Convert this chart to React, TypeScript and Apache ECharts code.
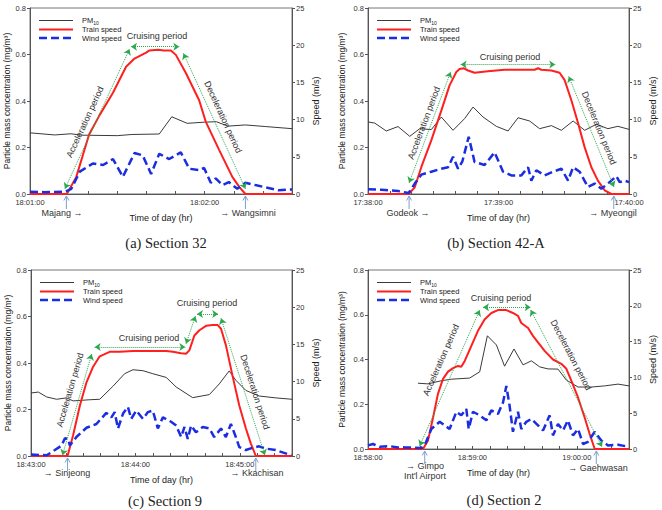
import React, { useEffect, useRef } from 'react';
import * as echarts from 'echarts';

// ---------------- DATA ----------------
// (a) Section 32 — time in seconds after 18:01:00
const aPmT = [0, 8.5, 14, 18, 30, 35, 44.4, 48.7, 54, 60, 64, 68, 74, 81, 90];
const aPmV = [0.263, 0.254, 0.259, 0.253, 0.251, 0.256, 0.258, 0.332, 0.304, 0.309, 0.311, 0.292, 0.297, 0.29, 0.281];
const aTrT = [0, 12.5, 13.1, 15.9, 20.3, 23.9, 28.5, 33, 35.9, 39.9, 41, 44, 46, 48.4, 50.1, 53.5, 58.1, 60.4, 65, 69.5, 72, 74, 90];
const aTrV = [0, 0, 0.3, 2.3, 8.0, 10.6, 13.6, 17.1, 18.2, 19.0, 19.3, 19.4, 19.3, 19.3, 18.7, 16.3, 12.6, 9.7, 5.9, 2.3, 0.9, 0, 0];
const aWiT = [0, 5, 12, 14.2, 17.1, 21.6, 25.1, 28.5, 31.9, 35.9, 38.7, 41.6, 44.4, 47.8, 51.8, 54.7, 58.1, 59.8, 62.1, 63.8, 66.1, 68.3, 71.2, 74, 77.4, 80.9, 85.4, 88.8, 90];
const aWiV = [0.3, 0.25, 0.3, 0.7, 3.0, 4.1, 3.9, 4.7, 2.3, 5.5, 5.2, 2.7, 5.4, 4.7, 5.6, 3.4, 3.2, 3.5, 1.5, 2.1, 1.2, 1.6, 0.7, 1.5, 1.2, 0.9, 0.5, 0.6, 0.6];
const aArrows = [[[12, 0.7], [34.2, 19.5]], [[34.7, 19.8], [51.3, 19.8]], [[52.7, 18.9], [74, 0.7]]];
const aStations = [12.5, 74];

// (b) Section 42-A — seconds after 17:38:00
const bPmT = [0, 3.1, 8.4, 13.8, 19.2, 23.8, 29.1, 33.7, 39.1, 44.4, 48.3, 52.9, 59, 64.4, 69, 74.3, 78.9, 84.3, 88.9, 94.3, 99.6, 105, 110.3, 114.9, 120];
const bPmV = [0.31, 0.305, 0.271, 0.29, 0.248, 0.281, 0.277, 0.331, 0.274, 0.324, 0.374, 0.331, 0.291, 0.271, 0.328, 0.314, 0.281, 0.294, 0.274, 0.314, 0.274, 0.3, 0.281, 0.291, 0.278];
const bTrT = [0, 18.7, 21.5, 24.5, 29.1, 33.7, 37.5, 40.6, 42.1, 44.1, 46, 49, 55.2, 62.8, 69, 76.6, 78.2, 79.7, 84.3, 88.1, 90.4, 93.5, 96.6, 99.6, 102.7, 105.7, 108.8, 111.9, 120];
const bTrV = [0, 0, 0.9, 3.6, 7.2, 11.2, 14.6, 16.4, 16.8, 16.9, 16.6, 16.3, 16.5, 16.7, 16.7, 16.7, 16.9, 16.7, 16.6, 16.3, 15.3, 12.6, 9.5, 6.3, 3.6, 1.8, 0.5, 0, 0];
const bWiT = [0, 6.1, 13.8, 18.7, 21.5, 24.5, 29.1, 33.7, 36.8, 39.1, 41.4, 43.4, 46.3, 49, 53.6, 58.2, 62.1, 65.9, 70.5, 73.6, 75.1, 77.4, 81.2, 85.1, 88.9, 92, 94.3, 97.3, 101.1, 104.2, 107.3, 110.3, 114.2, 115.7, 118, 120];
const bWiV = [0.63, 0.58, 0.4, 0.13, 1.4, 2.6, 3.0, 3.4, 3.6, 5.0, 3.4, 4.4, 7.7, 4.3, 3.9, 5.6, 3.0, 2.5, 2.5, 3.6, 1.8, 3.2, 2.5, 3.0, 3.4, 1.8, 3.6, 3.0, 0.94, 1.4, 0.7, 1.4, 2.4, 1.6, 1.8, 1.6];
const bArrows = [[[18.9, 1.5], [38, 16.4]], [[42.6, 17.4], [86.1, 17.4]], [[92.3, 15.8], [113.1, 0.94]]];
const bStations = [18.9, 113];

// (c) Section 9 — seconds after 18:43:00
const cPmT = [0, 4.2, 9, 14.7, 20.4, 24.2, 33.8, 39.5, 47.1, 53.8, 58.6, 64.3, 70, 77.7, 83.4, 92.9, 102.5, 108.2, 113.9, 117.7, 123.5, 131.1, 140.6, 150];
const cPmV = [0.271, 0.275, 0.254, 0.244, 0.25, 0.237, 0.242, 0.244, 0.3, 0.354, 0.371, 0.367, 0.354, 0.338, 0.297, 0.251, 0.264, 0.31, 0.366, 0.326, 0.282, 0.258, 0.25, 0.244];
const cTrT = [0, 21, 24.2, 28.1, 31.9, 35.7, 39.5, 45.2, 51, 58.6, 68.1, 77.7, 81.5, 86.3, 89.1, 91, 93.9, 96.8, 100.6, 104.4, 107.3, 109.2, 112, 115.8, 119.7, 123.5, 126.3, 129.2, 150];
const cTrV = [0, 0, 2.8, 6.8, 9.9, 12.0, 13.4, 14.0, 14.0, 14.1, 14.1, 14.1, 14.0, 13.8, 13.75, 14.2, 16.2, 16.9, 17.5, 17.6, 17.6, 17.1, 14.9, 10.8, 6.8, 3.7, 1.7, 0, 0];
const cWiT = [0, 9, 13.7, 17.6, 19.5, 21.4, 22.3, 26.1, 31.9, 37.6, 43.3, 46.2, 48.1, 50, 52.9, 55.7, 57.6, 60.5, 64.3, 67.2, 70, 72.9, 75.8, 80.5, 83.4, 86.3, 88.2, 90.1, 92, 94.8, 98.7, 102.5, 105.3, 109.2, 112, 114.9, 117.7, 119.7, 123.5, 127.3, 131.1, 134.9, 140.6, 149.6];
const cWiV = [0.2, 0.1, 0.8, 1.4, 2.4, 2.3, 1.4, 2.55, 3.8, 4.3, 5.8, 5.2, 5.9, 3.7, 5.7, 6.6, 5.0, 6.1, 5.0, 5.9, 6.1, 3.7, 5.2, 4.6, 4.1, 2.55, 3.9, 2.3, 4.1, 3.2, 3.9, 3.7, 2.55, 3.7, 2.55, 4.3, 2.55, 1.2, 0.8, 1.1, 1.3, 1.0, 0.8, 0.1];
const cArrows = [[[18.1, 0.1], [34.9, 13.7]], [[36.6, 14.65], [88.7, 14.65]], [[89.1, 15.1], [94.5, 18.8]], [[95.4, 19.1], [107.6, 19.1]], [[109.2, 18.5], [134.4, 0.1]]];
const cStations = [21, 129.2];

// (d) Section 2 — seconds after 18:58:00
const dPmT = [28.7, 34.5, 42.1, 47.9, 58.4, 64.2, 68.6, 73.8, 78.5, 83.9, 89.1, 93.9, 98.7, 103.4, 109.2, 114, 120.7, 128.4, 136, 143.7, 150];
const dPmV = [0.294, 0.291, 0.305, 0.312, 0.317, 0.345, 0.506, 0.465, 0.37, 0.447, 0.376, 0.394, 0.367, 0.358, 0.357, 0.308, 0.277, 0.277, 0.282, 0.29, 0.282];
const dTrT = [0, 31.6, 34.5, 37.4, 40.2, 43.1, 46, 48.9, 51.7, 53.6, 55.6, 59.4, 63.2, 67, 70.9, 74.7, 79.5, 83.3, 86.2, 88.1, 92, 94.8, 97.7, 101.5, 106.3, 111.1, 114, 116.9, 120.7, 124.5, 127.4, 130.3, 150];
const dTrV = [0, 0, 1.2, 4.4, 7.7, 9.8, 10.8, 11.3, 11.6, 11.5, 12.3, 14.4, 16.5, 18.1, 19.0, 19.4, 19.4, 19.0, 18.6, 17.6, 16.9, 15.8, 14.9, 13.7, 12.5, 11.9, 11.2, 9.5, 7.2, 4.4, 2.1, 0, 0];
const dWiT = [0, 2.9, 6.7, 12.5, 17.2, 24.9, 30.7, 32.6, 36.4, 41.2, 46.9, 50.8, 53.6, 56.5, 57.9, 60.3, 64.2, 68, 70.9, 74.7, 77.6, 79.5, 81.4, 83.3, 86.2, 88.1, 91, 93.9, 97.7, 100.6, 104.4, 106.3, 109.2, 112.1, 114.9, 117.8, 120.7, 123.6, 126.4, 130.3, 134.1, 137.9, 143.7, 150];
const dWiV = [0.5, 0.7, 0.3, 0.4, 0.2, 0.2, 0.14, 0.5, 2.8, 3.8, 2.8, 5.2, 4.7, 5.6, 2.8, 5.2, 4.7, 4.0, 5.4, 4.9, 6.5, 8.8, 6.0, 2.4, 5.2, 2.8, 3.8, 4.2, 3.3, 2.6, 4.7, 1.9, 3.5, 2.6, 4.0, 1.9, 2.8, 0.7, 1.0, 2.4, 1.2, 0.5, 0.6, 0.3];
const dArrows = [[[29.7, 0.42], [64.2, 19.4]], [[66.1, 19.8], [93.5, 19.8]], [[93.5, 19.4], [134.5, 0.3]]];
const dStations = [32.6, 131.2];

// Tick labels / texts
const leftTicks = [0, 0.2, 0.4, 0.6, 0.8];
const rightTicks = [0, 5, 10, 15, 20, 25];
const ACC = 'Acceleration period';
const CRU = 'Cruising period';
const DEC = 'Deceleration period';

// ---------------- LAYOUT ----------------
const FONT = '"Liberation Sans", Arial, Helvetica, sans-serif';
const SERIF = '"Liberation Serif", "Times New Roman", serif';

const zip = (t: number[], v: number[]) => t.map((x, i) => [x, v[i]]);
const pad = (n: number) => (n < 10 ? '0' : '') + n;
const fmtTime = (s: number) => {
  const h = Math.floor(s / 3600);
  const m = Math.floor((s % 3600) / 60);
  const ss = Math.round(s % 60);
  return pad(h) + ':' + pad(m) + ':' + pad(ss);
};

const panels = [
  {
    grid: { left: 30, top: 8, width: 262, height: 186 }, xMax: 90, base: 18 * 3600 + 60, leftGap: 19,
    pm: zip(aPmT, aPmV), train: zip(aTrT, aTrV), wind: zip(aWiT, aWiV), arrows: aArrows, stations: aStations,
    notes: [{ t: ACC, x: 85, y: 122, a: 0 }, { t: CRU, x: 157, y: 36, a: -1 }, { t: DEC, x: 223, y: 117, a: 2 }],
    labels: [{ t: 'Majang →', x: 62, y: 213 }, { t: '→ Wangsimni', x: 248, y: 213 }],
    title: { t: '(a) Section 32', x: 166, y: 243 },
  },
  {
    grid: { left: 368, top: 8, width: 261, height: 186 }, xMax: 120, base: 17 * 3600 + 38 * 60, leftGap: 21.5,
    pm: zip(bPmT, bPmV), train: zip(bTrT, bTrV), wind: zip(bWiT, bWiV), arrows: bArrows, stations: bStations,
    notes: [{ t: ACC, x: 424, y: 123, a: 0 }, { t: CRU, x: 510, y: 57, a: -1 }, { t: DEC, x: 599, y: 128, a: 2 }],
    labels: [{ t: 'Godeok →', x: 408, y: 213 }, { t: '→ Myeongil', x: 613, y: 213 }],
    title: { t: '(b) Section 42-A', x: 496, y: 243 },
  },
  {
    grid: { left: 31, top: 270, width: 261, height: 186 }, xMax: 150, base: 18 * 3600 + 43 * 60, leftGap: 19,
    pm: zip(cPmT, cPmV), train: zip(cTrT, cTrV), wind: zip(cWiT, cWiV), arrows: cArrows, stations: cStations,
    notes: [{ t: ACC, x: 70, y: 390, a: 0 }, { t: CRU, x: 149, y: 338, a: -1 }, { t: CRU, x: 207, y: 303, a: -1 }, { t: DEC, x: 255, y: 392, a: 4 }],
    labels: [{ t: '→ Sinjeong', x: 67, y: 473 }, { t: '→ Kkachisan', x: 257, y: 473 }],
    title: { t: '(c) Section 9', x: 165, y: 501 },
  },
  {
    grid: { left: 368, top: 270, width: 261, height: 179 }, xMax: 150, base: 18 * 3600 + 58 * 60, leftGap: 21.5,
    pm: zip(dPmT, dPmV), train: zip(dTrT, dTrV), wind: zip(dWiT, dWiV), arrows: dArrows, stations: dStations,
    notes: [{ t: ACC, x: 441, y: 360, a: 0 }, { t: CRU, x: 501, y: 298, a: -1 }, { t: DEC, x: 571, y: 355, a: 2 }],
    labels: [{ t: '→ Gimpo', x: 425, y: 466 }, { t: "Int'l Airport", x: 425, y: 476 }, { t: '→ Gaehwasan', x: 598, y: 468 }],
    title: { t: '(d) Section 2', x: 504, y: 500 },
  },
];

const AXIS_COLOR = '#555';
const TXT = '#333';
const PM_COLOR = '#3a3a3a';
const TRAIN_COLOR = '#ff1f1f';
const WIND_COLOR = '#1a2de0';
const GREEN = '#2ea84f';
const STATION_COLOR = '#7f9fcf';

export default function App() {
  const ref = useRef<HTMLDivElement>(null);
  useEffect(() => {
    if (!ref.current) return;
    const chart = echarts.init(ref.current, null, { renderer: 'svg' });
    const option: any = {
      animation: false,
      backgroundColor: '#fff',
      textStyle: { fontFamily: FONT },
      grid: panels.map((p) => ({ ...p.grid, show: true, borderColor: '#777', borderWidth: 1, backgroundColor: 'transparent', containLabel: false })),
      xAxis: panels.map((p, i) => ({
        type: 'value', gridIndex: i, min: 0, max: p.xMax, interval: 10,
        axisLine: { show: true, onZero: false, lineStyle: { color: AXIS_COLOR, width: 1 } },
        axisTick: { show: true, inside: true, length: 3, lineStyle: { color: AXIS_COLOR } },
        axisLabel: { fontSize: 7.5, color: TXT, margin: 4, formatter: (v: number) => (Math.abs(v % 60) < 1e-6 ? fmtTime(p.base + v) : '') },
        splitLine: { show: false },
        name: 'Time of day (hr)', nameLocation: 'middle', nameGap: 19, nameTextStyle: { fontSize: 9, color: '#222' },
      })),
      yAxis: panels.flatMap((p, i) => [
        {
          type: 'value', gridIndex: i, position: 'left', min: leftTicks[0], max: leftTicks[leftTicks.length - 1], interval: leftTicks[1] - leftTicks[0],
          axisLine: { show: true, onZero: false, lineStyle: { color: AXIS_COLOR, width: 1 } },
          axisTick: { show: true, length: 3, lineStyle: { color: AXIS_COLOR } },
          axisLabel: { fontSize: 7.5, color: TXT, margin: 4, formatter: (v: number) => v.toFixed(1) },
          splitLine: { show: false },
          name: 'Particle mass concentration (mg/m³)', nameLocation: 'middle', nameGap: p.leftGap, nameRotate: 90,
          nameTextStyle: { fontSize: 8.5, color: '#222' },
        },
        {
          type: 'value', gridIndex: i, position: 'right', min: rightTicks[0], max: rightTicks[rightTicks.length - 1], interval: rightTicks[1] - rightTicks[0],
          axisLine: { show: true, onZero: false, lineStyle: { color: AXIS_COLOR, width: 1 } },
          axisTick: { show: true, length: 3, lineStyle: { color: AXIS_COLOR } },
          axisLabel: { fontSize: 7.5, color: TXT, margin: 4 },
          splitLine: { show: false },
          name: 'Speed (m/s)', nameLocation: 'middle', nameGap: 19, nameRotate: 90,
          nameTextStyle: { fontSize: 9, color: '#222' },
        },
      ]),
      series: panels.flatMap((p, i) => [
        {
          type: 'line', name: 'PM10', xAxisIndex: i, yAxisIndex: 2 * i, data: p.pm, symbol: 'none', showSymbol: false,
          lineStyle: { color: PM_COLOR, width: 1 }, z: 2, silent: true,
        },
        {
          type: 'line', name: 'Train speed', xAxisIndex: i, yAxisIndex: 2 * i + 1, data: p.train, symbol: 'none', showSymbol: false,
          lineStyle: { color: TRAIN_COLOR, width: 2 }, z: 3, silent: true,
          markLine: {
            silent: true, symbol: ['arrow', 'arrow'], symbolSize: 6, animation: false,
            label: { show: false }, emphasis: { disabled: true },
            lineStyle: { color: GREEN, type: 'dotted', width: 1 },
            data: p.arrows.map(([s, e]) => [{ coord: s }, { coord: e }]),
          },
        },
        {
          type: 'line', name: 'Wind speed', xAxisIndex: i, yAxisIndex: 2 * i + 1, data: p.wind, symbol: 'none', showSymbol: false,
          lineStyle: { color: WIND_COLOR, width: 2.5, type: [8, 4] }, z: 4, silent: true,
        },
      ]),
    };
    chart.setOption(option);

    const g: any[] = [];
    const txt = (text: string, x: number, y: number, size: number, extra: any = {}) => ({
      type: 'text', x, y, silent: true, z: 50,
      style: { text, fontSize: size, fontFamily: FONT, fill: TXT, align: 'center', verticalAlign: 'middle', ...extra },
    });
    panels.forEach((p, i) => {
      const toPx = (pt: number[]) => chart.convertToPixel({ xAxisIndex: i, yAxisIndex: 2 * i + 1 } as any, pt) as unknown as number[];
      // station arrows
      p.stations.forEach((t) => {
        const [x, y] = toPx([t, 0]);
        g.push({ type: 'line', silent: true, z: 50, shape: { x1: x, y1: y + 15, x2: x, y2: y + 2 }, style: { stroke: STATION_COLOR, lineWidth: 1 } });
        g.push({ type: 'polyline', silent: true, z: 50, shape: { points: [[x - 2.5, y + 6.5], [x, y + 2], [x + 2.5, y + 6.5]] }, style: { stroke: STATION_COLOR, lineWidth: 1, fill: 'none' } });
      });
      // period annotations
      p.notes.forEach((n) => {
        let rotation = 0;
        if (n.a >= 0) {
          const [s, e] = p.arrows[n.a];
          const ps = toPx(s);
          const pe = toPx(e);
          rotation = Math.atan2(-(pe[1] - ps[1]), pe[0] - ps[0]);
        }
        g.push({ ...txt(n.t, n.x, n.y, 9), rotation });
      });
      // station labels
      p.labels.forEach((l) => g.push(txt(l.t, l.x, l.y, 9)));
      // title
      g.push(txt(p.title.t, p.title.x, p.title.y, 14.5, { fontFamily: SERIF, fill: '#222' }));
      // legend
      const gx = p.grid.left;
      const gy = p.grid.top;
      const rows = [12.5, 21.5, 30];
      g.push({ type: 'line', silent: true, z: 50, shape: { x1: gx + 9, y1: gy + rows[0], x2: gx + 43, y2: gy + rows[0] }, style: { stroke: PM_COLOR, lineWidth: 1 } });
      g.push({ type: 'line', silent: true, z: 50, shape: { x1: gx + 9, y1: gy + rows[1], x2: gx + 43, y2: gy + rows[1] }, style: { stroke: TRAIN_COLOR, lineWidth: 2 } });
      g.push({ type: 'line', silent: true, z: 50, shape: { x1: gx + 9, y1: gy + rows[2], x2: gx + 43, y2: gy + rows[2] }, style: { stroke: WIND_COLOR, lineWidth: 2.5, lineDash: [8, 4] } });
      g.push(txt('PM', gx + 52, gy + rows[0], 7.5, { align: 'left', fill: '#222' }));
      g.push(txt('10', gx + 63.3, gy + rows[0] + 2.3, 5, { align: 'left', fill: '#222' }));
      g.push(txt('Train speed', gx + 52, gy + rows[1], 7.5, { align: 'left', fill: '#222' }));
      g.push(txt('Wind speed', gx + 52, gy + rows[2], 7.5, { align: 'left', fill: '#222' }));
    });
    chart.setOption({ graphic: g });
    return () => chart.dispose();
  }, []);
  return <div ref={ref} style={{ position: 'absolute', left: 0, top: 0, width: 662, height: 510, background: '#fff' }} />;
}
